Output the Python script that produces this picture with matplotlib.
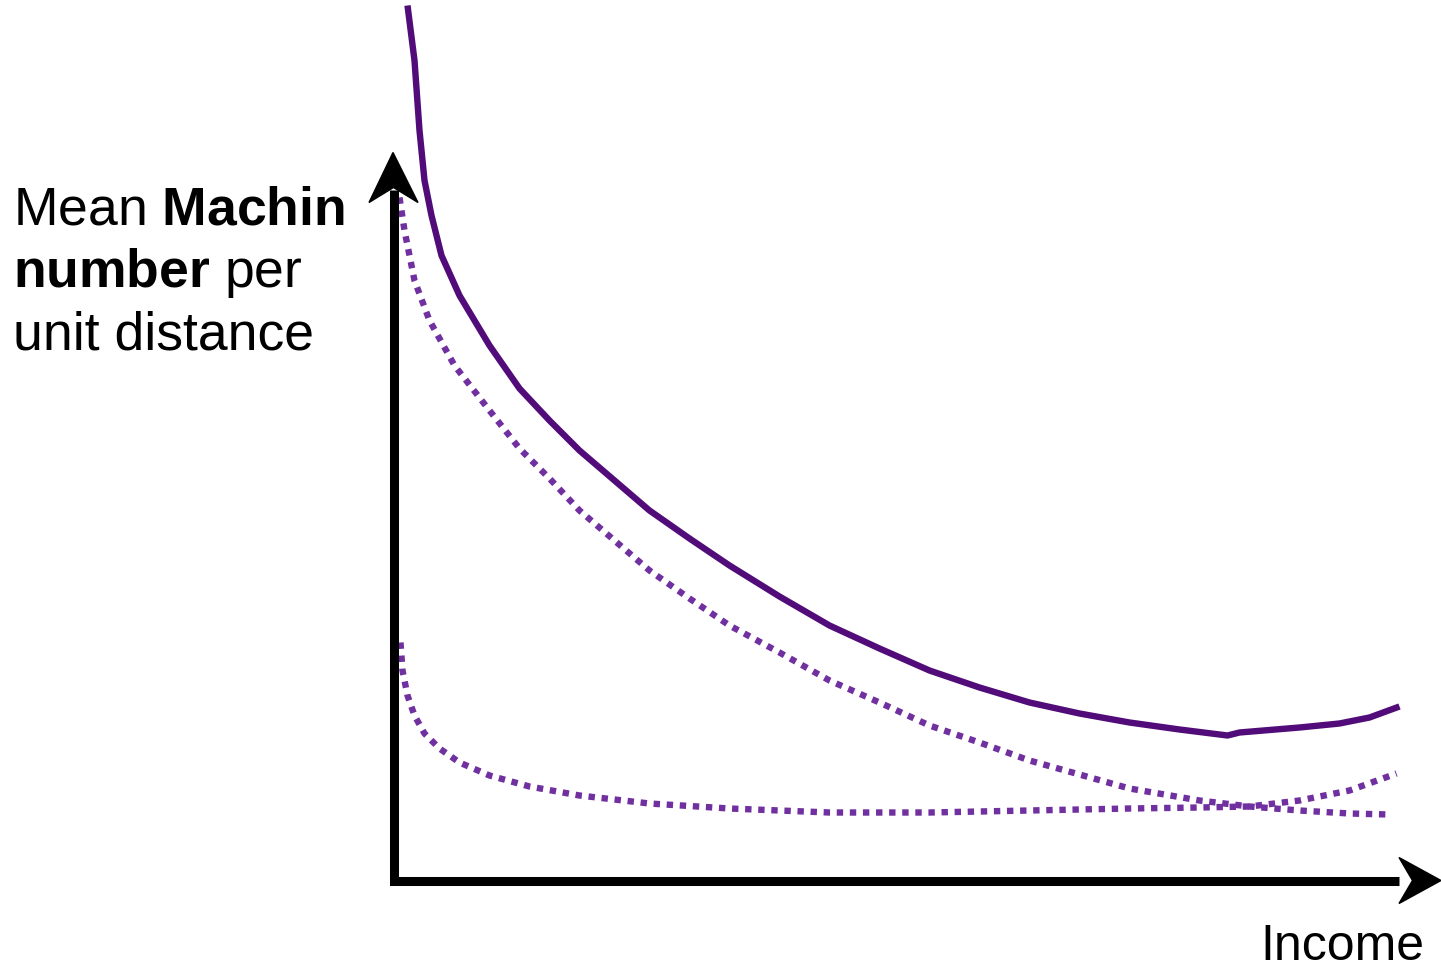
import matplotlib.pyplot as plt
from matplotlib.patches import Polygon

plt.rcParams['font.family'] = ['Liberation Sans', 'DejaVu Sans']
plt.rcParams['mathtext.fontset'] = 'custom'
plt.rcParams['mathtext.rm'] = 'Liberation Sans'
plt.rcParams['mathtext.bf'] = 'Liberation Sans:bold'

# Valores (unidades: origen en la esquina de los ejes)
ingreso_total = [1.4, 2.1, 2.6, 3.1, 3.8, 4.8, 6.6, 9.6, 12.6, 15.6, 18.6, 22.1,
                 25.6, 29.6, 33.6, 38.6, 43.6, 48.6, 53.6, 58.6, 63.6, 68.6,
                 73.6, 78.6, 83.4, 84.6, 90.6, 94.6, 97.6, 100.6]
machin_total = [87.5, 82.0, 75.0, 70.0, 66.5, 62.5, 58.5, 53.5, 49.2, 46.0, 43.0,
                40.0, 37.0, 34.2, 31.5, 28.4, 25.5, 23.2, 21.0, 19.3, 17.8, 16.7,
                15.8, 15.1, 14.5, 14.8, 15.3, 15.7, 16.3, 17.4]

ingreso_a = [0.6, 1.1, 2.1, 3.6, 6.1, 9.6, 12.6, 15.6, 18.6, 22.1, 25.6, 29.6,
             33.6, 38.6, 43.6, 48.6, 53.6, 58.6, 63.6, 68.6, 73.6, 80.6, 85.6,
             90.6, 95.6, 99.6]
machin_a = [68.3, 65.0, 60.0, 56.0, 51.5, 47.0, 43.2, 40.2, 37.0, 34.0, 31.0,
            28.2, 25.5, 22.8, 20.0, 17.8, 15.5, 13.8, 12.0, 10.6, 9.2, 8.0,
            7.4, 7.0, 6.7, 6.6]

ingreso_b = [0.7, 0.9, 1.4, 2.1, 3.1, 4.6, 6.6, 9.6, 13.6, 18.6, 25.6, 33.6,
             43.6, 53.6, 63.6, 73.6, 80.6, 85.6, 90.6, 95.6, 100.3]
machin_b = [23.8, 21.0, 18.5, 16.5, 14.7, 13.2, 11.8, 10.5, 9.4, 8.5, 7.7, 7.2,
            6.8, 6.8, 7.0, 7.2, 7.3, 7.4, 8.0, 9.0, 10.7]

fig = plt.figure(figsize=(14.41, 9.72), dpi=100)
ax = fig.add_axes([0, 0, 1, 1])
ax.set_xlim(-39.35, 104.75)
ax.set_ylim(-9.15, 88.05)
ax.axis('off')

# ejes con flechas
ax.plot([0, 0, 100.5], [69.0, 0, 0], color='black', lw=6.5,
        solid_joinstyle='miter', solid_capstyle='butt', zorder=3)
ax.add_patch(Polygon([(-0.05, 72.8), (-2.45, 67.8), (0, 69.3), (2.45, 67.8)],
                     closed=True, color='black', zorder=3))
ax.add_patch(Polygon([(104.75, 0), (100.55, 2.3), (101.9, 0), (100.55, -2.3)],
                     closed=True, color='black', zorder=3))

ax.plot(ingreso_total, machin_total, color='#510C79', lw=4.6,
        solid_capstyle='butt', solid_joinstyle='round', zorder=2)
ax.plot(ingreso_a, machin_a, color='#7030A0', lw=4.6,
        dashes=(1, 1.05), dash_capstyle='butt', zorder=2)
ax.plot(ingreso_b, machin_b, color='#7030A0', lw=4.6,
        dashes=(1, 1.05), dash_capstyle='butt', zorder=2)

fs = 38.5
ax.text(-38.05, 65.6, r'Mean $\mathbf{Machin}$', fontsize=fs, va='baseline', ha='left')
ax.text(-38.05, 59.3, r'$\mathbf{number}$ per', fontsize=fs, va='baseline', ha='left')
ax.text(-38.05, 53.1, 'unit distance', fontsize=fs, va='baseline', ha='left')
ax.text(103.1, -7.95, 'Income', fontsize=36, va='baseline', ha='right')

fig.savefig('out.png', dpi=100)
